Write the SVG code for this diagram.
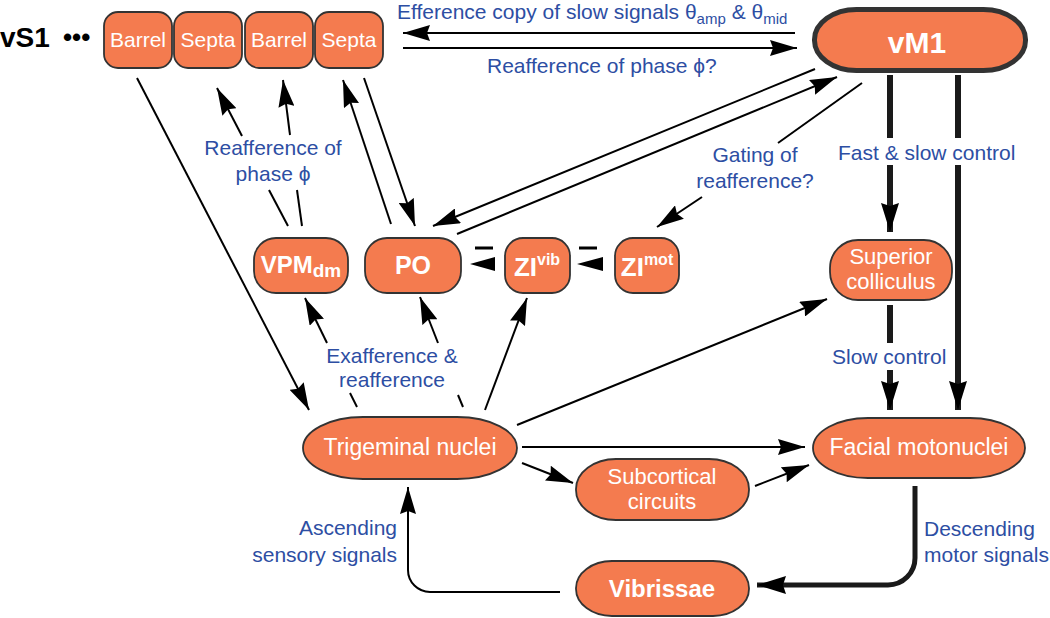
<svg xmlns="http://www.w3.org/2000/svg" width="1050" height="618" viewBox="0 0 1050 618">
<style>
  .box{fill:#f47b4f;stroke:#333;stroke-width:1.8}
  .nt{fill:#fff;font-family:"Liberation Sans",Arial,sans-serif;text-anchor:middle}
  .b{font-weight:bold}
  .lbl{fill:#2d4ea3;font-family:"Liberation Sans",Arial,sans-serif;font-size:21px}
  .c{fill:none;stroke:#000;stroke-width:2}
  .ct{fill:none;stroke:#1a1a1a;stroke-width:6}
</style>
<defs>
  <marker id="ah" markerUnits="userSpaceOnUse" markerWidth="28" markerHeight="16" refX="27" refY="8" orient="auto">
    <path d="M0,0 L27,8 L0,16 L3,8 Z" fill="#000"/>
  </marker>
  <marker id="aht" markerUnits="userSpaceOnUse" markerWidth="30" markerHeight="18" refX="29" refY="9" orient="auto">
    <path d="M0,0 L29,9 L0,18 L3,9 Z" fill="#000"/>
  </marker>
</defs>
<rect width="1050" height="618" fill="#fff"/>

<g id="connectors">
  <path class="c" d="M795,33 H403" marker-end="url(#ah)"/>
  <path class="c" d="M403,48 H797" marker-end="url(#ah)"/>
  <path class="c" d="M137,78 L309,410" marker-end="url(#ah)"/>
  <path class="c" d="M288,226 L269,190"/>
  <path class="c" d="M242,136 L217,88" marker-end="url(#ah)"/>
  <path class="c" d="M302,226 L297,190"/>
  <path class="c" d="M290,135 L283,80" marker-end="url(#ah)"/>
  <path class="c" d="M391,224 L343,80" marker-end="url(#ah)"/>
  <path class="c" d="M364,78 L415,226" marker-end="url(#ah)"/>
  <path class="c" d="M815,69 L433,226" marker-end="url(#ah)"/>
  <path class="c" d="M457,234 L837,77" marker-end="url(#ah)"/>
  <path class="c" d="M862,83 L778,143"/>
  <path class="c" d="M702,197 L657,227" marker-end="url(#ah)"/>
  <path d="M475,248 H493 M579,248 H597" stroke="#000" stroke-width="3"/>
  <polygon points="470,264 495,257 495,271" fill="#000"/>
  <polygon points="577,264 603,257 603,271" fill="#000"/>
  <path class="c" d="M357,407 L350,393"/>
  <path class="c" d="M327,343 L305,298" marker-end="url(#ah)"/>
  <path class="c" d="M463,407 L458,395"/>
  <path class="c" d="M438,343 L420,297" marker-end="url(#ah)"/>
  <path class="c" d="M485,410 L527,298" marker-end="url(#ah)"/>
  <path class="c" d="M517,425 L827,299" marker-end="url(#ah)"/>
  <path class="c" d="M522,447 L805,447" marker-end="url(#ah)"/>
  <path class="c" d="M522,463 L573,483" marker-end="url(#ah)"/>
  <path class="c" d="M755,486 L809,465" marker-end="url(#ah)"/>
  <path class="c" d="M560,592 H430 A22,22 0 0 1 408,570 V487" marker-end="url(#ah)"/>
  <path class="ct" d="M890,75 V138"/>
  <path class="ct" d="M890,165 V232" marker-end="url(#aht)"/>
  <path class="ct" d="M958,75 V138"/>
  <path class="ct" d="M958,165 V410" marker-end="url(#aht)"/>
  <path class="ct" d="M890,305 V343"/>
  <path class="ct" d="M890,370 V410" marker-end="url(#aht)"/>
  <path class="ct" style="stroke-width:5" d="M915,486 V558 A27,27 0 0 1 888,585 H757" marker-end="url(#aht)"/>
</g>

<g id="labels">
  <text class="lbl" x="397" y="19">Efference copy of slow signals θ<tspan font-size="15" dy="5">amp</tspan><tspan dy="-5"> &amp; θ</tspan><tspan font-size="15" dy="5">mid</tspan></text>
  <text class="lbl" x="487" y="73">Reafference of phase ϕ?</text>
  <text class="lbl" x="273" y="155" text-anchor="middle">Reafference of</text>
  <text class="lbl" x="273" y="181" text-anchor="middle">phase ϕ</text>
  <text class="lbl" x="755" y="162" text-anchor="middle">Gating of</text>
  <text class="lbl" x="755" y="188" text-anchor="middle">reafference?</text>
  <text class="lbl" x="838" y="160">Fast &amp; slow control</text>
  <text class="lbl" x="832" y="364">Slow control</text>
  <text class="lbl" x="392" y="363" text-anchor="middle">Exafference &amp;</text>
  <text class="lbl" x="392" y="387" text-anchor="middle">reafference</text>
  <text class="lbl" x="397" y="535" text-anchor="end">Ascending</text>
  <text class="lbl" x="397" y="562" text-anchor="end">sensory signals</text>
  <text class="lbl" x="924" y="536">Descending</text>
  <text class="lbl" x="924" y="562">motor signals</text>
</g>

<g id="vS1">
  <text x="0" y="47" font-family="Liberation Sans,Arial,sans-serif" font-weight="bold" font-size="28" fill="#000">vS1</text>
  <text x="63" y="46" font-family="Liberation Sans,Arial,sans-serif" font-weight="bold" font-size="26" fill="#000">•••</text>
</g>
<g id="barrel1"><rect class="box" x="104" y="12" width="68" height="56" rx="14"/><text class="nt" x="138" y="47" font-size="21">Barrel</text></g>
<g id="septa1"><rect class="box" x="174" y="12" width="68" height="56" rx="14"/><text class="nt" x="208" y="47" font-size="21">Septa</text></g>
<g id="barrel2"><rect class="box" x="245" y="12" width="68" height="56" rx="14"/><text class="nt" x="279" y="47" font-size="21">Barrel</text></g>
<g id="septa2"><rect class="box" x="315" y="12" width="68" height="56" rx="14"/><text class="nt" x="349" y="47" font-size="21">Septa</text></g>
<g id="vM1"><rect x="814.5" y="9.5" width="211" height="61" rx="42" ry="30" fill="#f47b4f" stroke="#333" stroke-width="5"/><text class="nt b" x="917" y="53" font-size="30">vM1</text></g>
<g id="VPMdm"><rect class="box" x="254" y="238" width="94" height="55" rx="22"/><text class="nt b" x="301" y="273" font-size="24">VPM<tspan font-size="19" dy="4">dm</tspan></text></g>
<g id="PO"><rect class="box" x="365" y="238" width="96" height="55" rx="22"/><text class="nt b" x="413" y="274" font-size="25">PO</text></g>
<g id="ZIvib"><rect class="box" x="505" y="238" width="65" height="55" rx="18"/><text class="nt b" x="537" y="276" font-size="26">ZI<tspan font-size="16" dy="-11">vib</tspan></text></g>
<g id="ZImot"><rect class="box" x="615" y="238" width="64" height="55" rx="18"/><text class="nt b" x="647" y="276" font-size="26">ZI<tspan font-size="16" dy="-11">mot</tspan></text></g>
<g id="superior-colliculus"><rect class="box" x="830" y="240" width="122" height="60" rx="28"/><text class="nt" x="891" y="264" font-size="22">Superior</text><text class="nt" x="891" y="289" font-size="22">colliculus</text></g>
<g id="trigeminal"><rect class="box" x="303" y="417" width="214" height="62" rx="60" ry="31"/><text class="nt" x="410" y="455" font-size="23">Trigeminal nuclei</text></g>
<g id="facial"><rect class="box" x="813" y="418" width="212" height="60" rx="55" ry="30"/><text class="nt" x="919" y="455" font-size="23">Facial motonuclei</text></g>
<g id="subcortical"><rect class="box" x="576" y="459" width="173" height="61" rx="40" ry="30"/><text class="nt" x="662" y="484" font-size="22">Subcortical</text><text class="nt" x="662" y="509" font-size="22">circuits</text></g>
<g id="vibrissae"><rect class="box" x="576" y="561" width="173" height="55" rx="36" ry="27"/><text class="nt b" x="662" y="597" font-size="24">Vibrissae</text></g>
</svg>
